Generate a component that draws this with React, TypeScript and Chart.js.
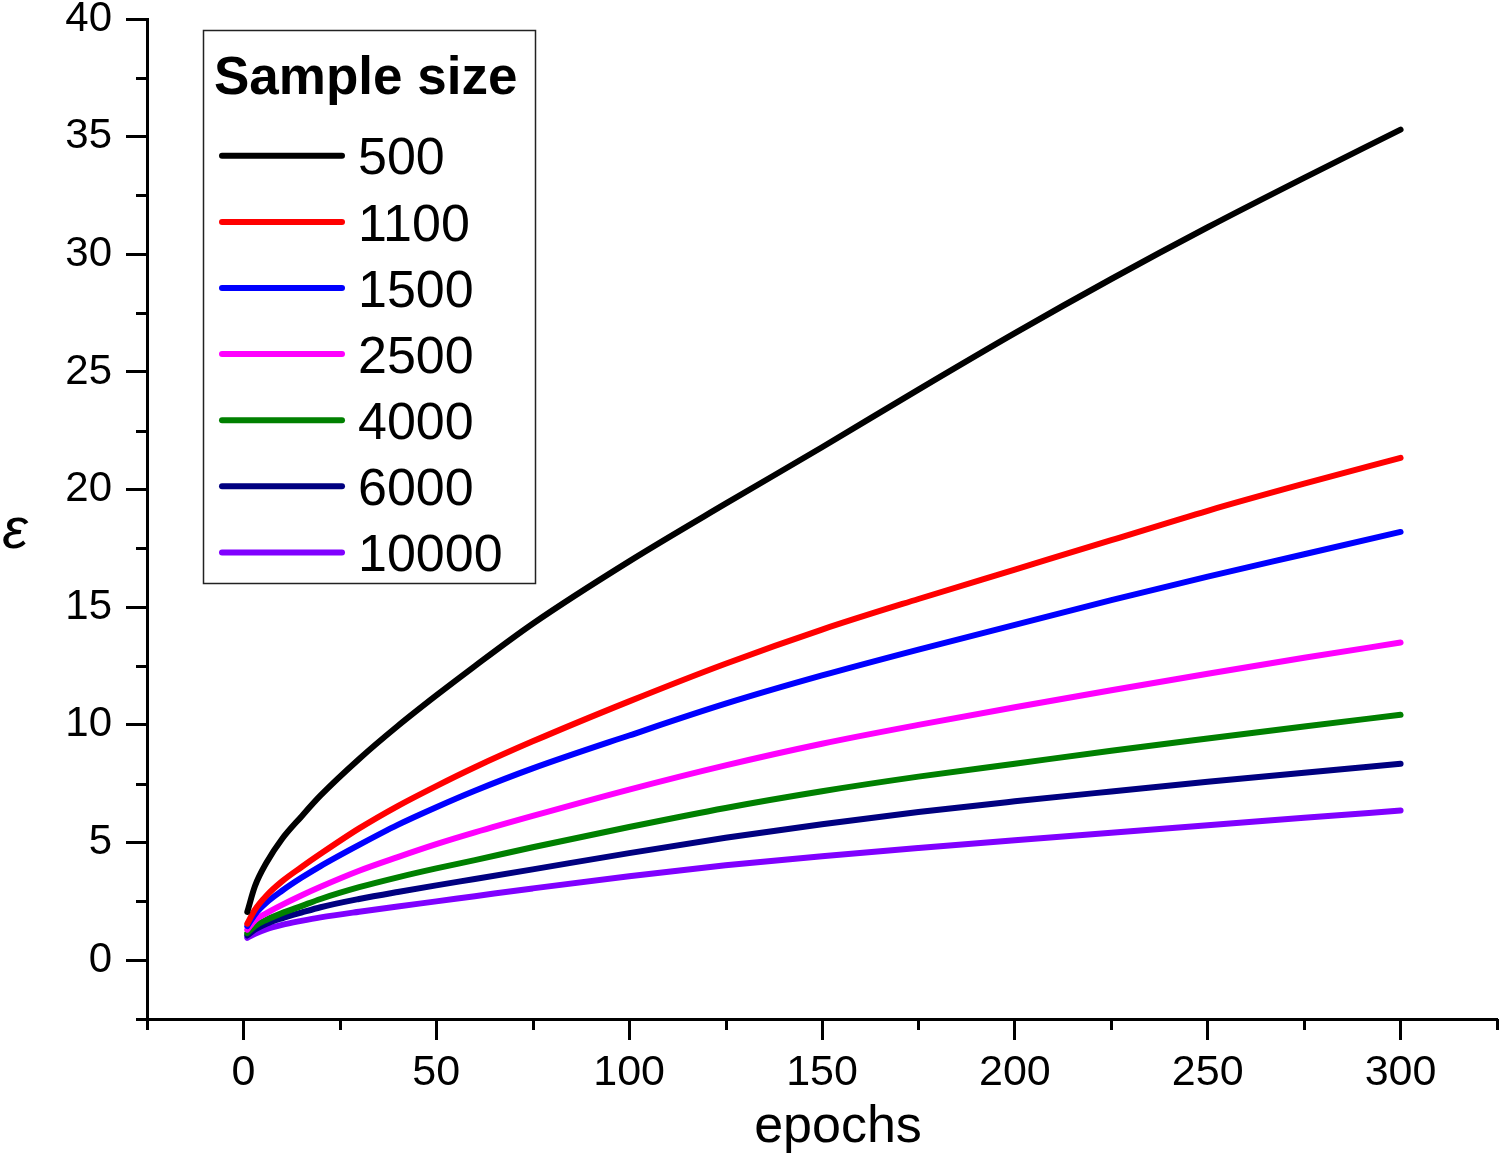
import React, { useEffect, useRef } from 'react';
import { Chart, registerables } from 'chart.js';

Chart.register(...registerables);

const epochs = [1, 3, 6, 10, 15, 20, 30, 40, 50, 60, 75, 100, 125, 150, 175, 200, 225, 250, 275, 300];
const legendTitle = 'Sample size';
const sampleSizes = ['500', '1100', '1500', '2500', '4000', '6000', '10000'];
const seriesColors = ['#000000', '#ff0000', '#0000ff', '#ff00ff', '#008000', '#000080', '#8000ff'];
const eps500 = [2.05, 3.15, 4.15, 5.15, 6.1, 7.0, 8.55, 9.95, 11.25, 12.5, 14.3, 16.95, 19.4, 21.8, 24.25, 26.65, 28.95, 31.15, 33.25, 35.3];
const eps1100 = [1.55, 2.15, 2.75, 3.35, 3.95, 4.52, 5.6, 6.55, 7.4, 8.2, 9.3, 11.0, 12.6, 14.05, 15.35, 16.6, 17.85, 19.1, 20.25, 21.35];
const eps1500 = [1.45, 1.95, 2.45, 2.95, 3.5, 4.0, 4.9, 5.75, 6.5, 7.2, 8.15, 9.55, 10.9, 12.1, 13.2, 14.25, 15.3, 16.3, 17.25, 18.2];
const eps2500 = [1.3, 1.7, 2.0, 2.35, 2.75, 3.12, 3.8, 4.38, 4.93, 5.43, 6.13, 7.25, 8.28, 9.2, 10.0, 10.75, 11.47, 12.17, 12.85, 13.5];
const eps4000 = [1.15, 1.45, 1.72, 2.0, 2.3, 2.6, 3.1, 3.52, 3.9, 4.25, 4.8, 5.66, 6.47, 7.18, 7.8, 8.35, 8.9, 9.42, 9.93, 10.43];
const eps6000 = [1.05, 1.3, 1.55, 1.78, 2.02, 2.25, 2.6, 2.9, 3.18, 3.45, 3.86, 4.55, 5.2, 5.78, 6.3, 6.75, 7.17, 7.58, 7.97, 8.35];
const eps10000 = [0.95, 1.12, 1.32, 1.5, 1.67, 1.82, 2.06, 2.28, 2.5, 2.72, 3.05, 3.57, 4.03, 4.42, 4.77, 5.1, 5.42, 5.73, 6.05, 6.36];
const seriesValues = [eps500, eps1100, eps1500, eps2500, eps4000, eps6000, eps10000];

const xMin = -25;
const xMax = 325;
const xStep = 25;
const xLabelStep = 50;
const yMin = -2.5;
const yMax = 40;
const yStep = 2.5;
const yLabelStep = 5;
const xTitle = 'epochs';
const yTitle = 'ε';

const FONT = '"Liberation Sans", Arial, Helvetica, sans-serif';

export default function App() {
  const ref = useRef<HTMLCanvasElement>(null);

  useEffect(() => {
    document.body.style.margin = '0';
    const canvas = ref.current;
    if (!canvas) return;

    const datasets = sampleSizes.map((s, i) => ({
      label: s,
      data: epochs.map((x, j) => ({ x, y: seriesValues[i][j] })),
      borderColor: seriesColors[i],
      backgroundColor: seriesColors[i],
      borderWidth: 6,
      pointRadius: 0,
      fill: false,
      cubicInterpolationMode: 'monotone' as const,
      borderCapStyle: 'round' as const,
      borderJoinStyle: 'round' as const,
    }));

    const decor = {
      id: 'decor',
      afterDraw(chart: any) {
        const c = chart.ctx as CanvasRenderingContext2D;
        const xs = chart.scales.x;
        const ys = chart.scales.y;
        const area = chart.chartArea;
        c.save();
        // minor ticks
        c.strokeStyle = '#000';
        c.lineWidth = 3;
        c.lineCap = 'butt';
        xs.ticks.forEach((t: any) => {
          if (Math.abs(t.value % xLabelStep) > 1e-9) {
            const px = Math.round(xs.getPixelForValue(t.value)) + 0.5;
            c.beginPath();
            c.moveTo(px, area.bottom);
            c.lineTo(px, area.bottom + 11);
            c.stroke();
          }
        });
        ys.ticks.forEach((t: any) => {
          if (Math.abs(t.value % yLabelStep) > 1e-9) {
            const py = Math.round(ys.getPixelForValue(t.value)) + 0.5;
            c.beginPath();
            c.moveTo(area.left, py);
            c.lineTo(area.left - 11, py);
            c.stroke();
          }
        });

        // axis titles
        c.fillStyle = '#000';
        c.textAlign = 'center';
        c.textBaseline = 'alphabetic';
        c.font = `52px ${FONT}`;
        c.fillText(xTitle, 838, 1142);
        c.font = `italic 58px ${FONT}`;
        c.fillText(yTitle, 15, 548);

        // legend box
        const bx = 203, by = 30, bw = 332, bh = 553;
        c.fillStyle = '#fff';
        c.fillRect(bx, by, bw, bh);
        c.strokeStyle = '#222';
        c.lineWidth = 1.5;
        c.strokeRect(bx + 0.5, by + 0.5, bw, bh);
        c.fillStyle = '#000';
        c.textAlign = 'left';
        c.font = `bold 53px ${FONT}`;
        c.fillText(legendTitle, 214, 94);
        c.font = `52px ${FONT}`;
        chart.data.datasets.forEach((ds: any, i: number) => {
          const ry = 155.8 + i * 66.1;
          c.strokeStyle = ds.borderColor;
          c.lineWidth = 6;
          c.lineCap = 'round';
          c.beginPath();
          c.moveTo(222, ry);
          c.lineTo(342, ry);
          c.stroke();
          c.fillStyle = '#000';
          c.fillText(ds.label, 358, ry + 18.6);
        });
        c.restore();
      },
    };

    const chart = new Chart(canvas, {
      type: 'line',
      data: { datasets },
      options: {
        responsive: false,
        animation: false,
        devicePixelRatio: 1,
        layout: { padding: { top: 19, right: 3, left: 0, bottom: 0 } },
        plugins: {
          legend: { display: false },
          tooltip: { enabled: false },
        },
        scales: {
          x: {
            type: 'linear',
            min: xMin,
            max: xMax,
            ticks: {
              stepSize: xStep,
              autoSkip: false,
              maxRotation: 0,
              color: '#000',
              padding: 7,
              font: { family: FONT, size: 43 },
              callback: (v: any) => (Math.abs(Number(v) % xLabelStep) < 1e-9 ? String(v) : ''),
            },
            grid: {
              drawOnChartArea: false,
              drawTicks: true,
              tickLength: 21,
              tickWidth: 3,
              tickColor: (ctx: any) =>
                ctx.tick && Math.abs(ctx.tick.value % xLabelStep) < 1e-9 ? '#000' : 'rgba(0,0,0,0)',
            },
            border: { display: true, color: '#000', width: 3 },
            afterFit: (s: any) => {
              s.height = 137;
              s.paddingLeft = 0;
              s.paddingRight = 0;
            },
          },
          y: {
            type: 'linear',
            min: yMin,
            max: yMax,
            ticks: {
              stepSize: yStep,
              autoSkip: false,
              color: '#000',
              padding: 14,
              font: { family: FONT, size: 42 },
              callback: (v: any) => (Math.abs(Number(v) % yLabelStep) < 1e-9 ? String(v) : ''),
            },
            grid: {
              drawOnChartArea: false,
              drawTicks: true,
              tickLength: 21,
              tickWidth: 3,
              tickColor: (ctx: any) =>
                ctx.tick && Math.abs(ctx.tick.value % yLabelStep) < 1e-9 ? '#000' : 'rgba(0,0,0,0)',
            },
            border: { display: true, color: '#000', width: 3 },
            afterFit: (s: any) => {
              s.width = 147;
              s.paddingTop = 0;
              s.paddingBottom = 0;
            },
          },
        },
      } as any,
      plugins: [decor],
    });

    return () => chart.destroy();
  }, []);

  return (
    <div style={{ width: 1500, height: 1156, background: '#fff' }}>
      <canvas ref={ref} width={1500} height={1156} style={{ display: 'block', width: 1500, height: 1156 }} />
    </div>
  );
}
